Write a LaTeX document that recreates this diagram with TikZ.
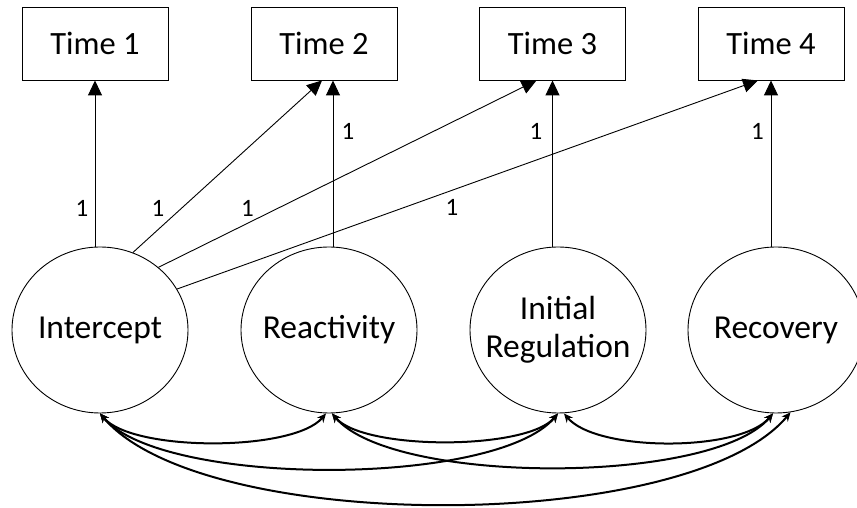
\documentclass[tikz,border=0pt]{standalone}
\usepackage{fontspec}
\setmainfont{Carlito}
\usetikzlibrary{arrows.meta,shapes.geometric,calc}
\newcommand\zw[1]{\makebox[0pt]{#1}}
\begin{document}
\begin{tikzpicture}[x=1pt,y=1pt,
  timebox/.style={draw=black,line width=0.9pt,minimum width=146pt,minimum height=73pt,inner sep=0pt,font=\fontsize{32.5}{38}\selectfont},
  latent/.style={draw=black,line width=0.9pt,ellipse,minimum width=176pt,minimum height=166pt,inner sep=0pt,align=center,font=\fontsize{33.5}{38}\selectfont},
  load/.style={draw=black,line width=0.9pt,-{Triangle[length=15pt,width=14pt]}},
  cov/.style={draw=black,line width=2pt,{Stealth[length=9pt,width=8pt]}-{Stealth[length=9pt,width=8pt]}},
  lab/.style={font=\fontsize{25}{28}\selectfont,inner sep=0pt}
]
\useasboundingbox[fill=white] (0,0) rectangle (857,508);

\node[timebox] (t1) at (95,464.5) {Time 1};
\node[timebox] (t2) at (324,464.5) {Time 2};
\node[timebox] (t3) at (552.5,464.5) {Time 3};
\node[timebox] (t4) at (771,464.5) {Time 4};

\node[latent] (int) at (100,178) {\zw{Intercept}};
\node[latent] (rea) at (329,178) {\zw{Reactivity}};
\node[latent] (ir) at (558,178) {\zw{Initial}\\\zw{Regulation}};
\node[latent] (rec) at (776,178) {\zw{Recovery}};

\coordinate (t2v) at ([xshift=9pt]t2.south);
\coordinate (t2d) at ([xshift=-2pt]t2.south);
\coordinate (t3d) at ([xshift=-16pt]t3.south);
\coordinate (t4d) at ([xshift=-13pt]t4.south);

\draw[load] (t1.south |- int.north) -- (t1.south);
\draw[load] (t2v |- rea.north) -- (t2v);
\draw[load] (t3.south |- ir.north) -- (t3.south);
\draw[load] (t4.south |- rec.north) -- (t4.south);
\draw[load] (int.67.6) -- (t2d);
\draw[load] (int.47) -- (t3d);
\draw[load] (int.28) -- (t4d);

\node[lab] (l1) at (82,300) {1};
\node[lab] (l2) at (158,300) {1};
\node[lab] (l3) at (247.5,300) {1};
\node[lab] (l4) at (452,301) {1};
\node[lab] (l5) at (348,377) {1};
\node[lab] (l6) at (536,377) {1};
\node[lab] (l7) at (757.5,377) {1};

\draw[cov] (int.south) to[out=-50,in=-130,looseness=0.57] ([xshift=-3pt]rea.south);
\draw[cov] (int.south) to[out=-50,in=-130,looseness=0.54] (ir.south);
\draw[cov] (int.south) to[out=-50,in=-130,looseness=0.59] (rec.-80);
\draw[cov] ([xshift=3pt]rea.south) to[out=-50,in=-130,looseness=0.55] (ir.south);
\draw[cov] ([xshift=3pt]rea.south) to[out=-50,in=-130,looseness=0.545] ([xshift=-3pt]rec.south);
\draw[cov] ([xshift=6pt]ir.south) to[out=-50,in=-130,looseness=0.62] ([xshift=-3pt]rec.south);
\end{tikzpicture}
\end{document}
